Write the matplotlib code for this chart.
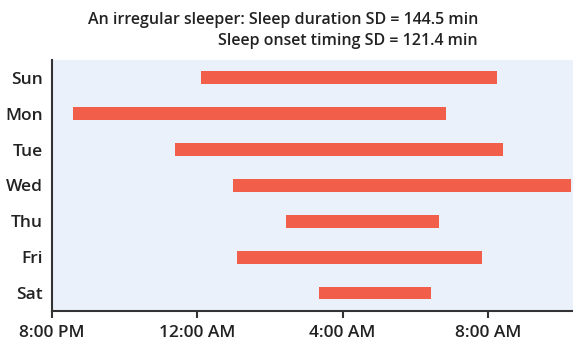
import numpy as np
from matplotlib import pyplot as plt

# nights of the week and sleep start / end, in hours after 8:00 PM
days = ["Sun", "Mon", "Tue", "Wed", "Thu", "Fri", "Sat"]
sleep_start = [4.11, 0.59, 3.39, 4.99, 6.44, 5.10, 7.34]
sleep_end = [12.24, 10.84, 12.40, 14.27, 10.65, 11.83, 10.43]

tick_hours = [0, 4, 8, 12]
tick_labels = ["8:00 PM", "12:00 AM", "4:00 AM", "8:00 AM"]

title_lines = ["An irregular sleeper: Sleep duration SD = 144.5 min",
               "Sleep onset timing SD = 121.4 min"]

plt.rcParams['font.family'] = ['Open Sans', 'DejaVu Sans']

fig = plt.figure(figsize=(5.73, 3.47), dpi=100)
ax = fig.add_axes([0.09, 0.104, 0.91, 0.723])
ax.set_facecolor("#EAF1FA")

y = np.arange(len(days))
width = np.array(sleep_end) - np.array(sleep_start)
ax.barh(y, width, left=sleep_start, height=0.36, color="#F15F4A")

ax.set_xlim(0, 14.33)
ax.set_ylim(6.5, -0.5)
ax.set_xticks(tick_hours)
ax.set_xticklabels(tick_labels, fontsize=12.5, fontweight='semibold', color="#222222")
ax.set_yticks(y)
ax.set_yticklabels(days, fontsize=12.5, fontweight='semibold', color="#222222")
ax.tick_params(axis='y', length=0, pad=6)
ax.tick_params(axis='x', length=5, width=1.5, color="#333333", pad=5)

for side in ["top", "right"]:
    ax.spines[side].set_visible(False)
for side in ["left", "bottom"]:
    ax.spines[side].set_linewidth(1.5)
    ax.spines[side].set_color("#333333")

fig.text(0.834, 0.965, title_lines[0], ha='right', va='top',
         fontsize=11.5, fontweight='semibold', color="#222222")
fig.text(0.834, 0.905, title_lines[1], ha='right', va='top',
         fontsize=11.5, fontweight='semibold', color="#222222")

plt.savefig("out.png", dpi=100)
